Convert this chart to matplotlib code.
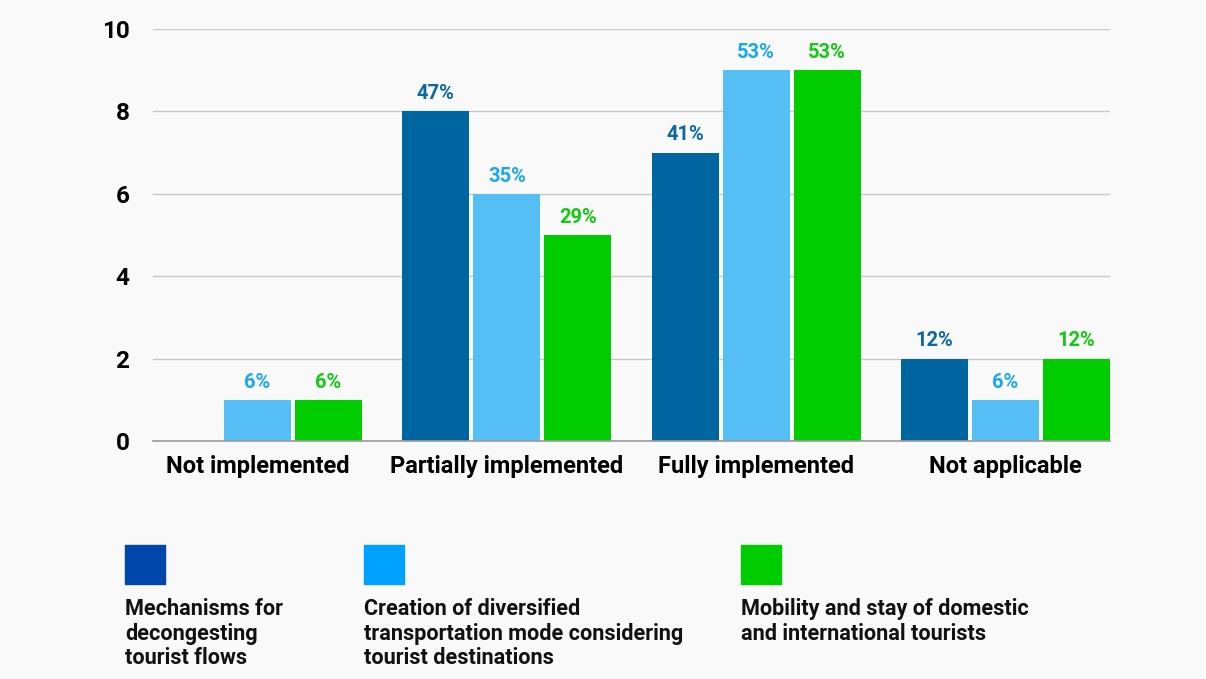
import matplotlib
matplotlib.use("Agg")
import matplotlib.pyplot as plt
from matplotlib.patches import Rectangle
import numpy as np

categories = ["Not implemented", "Partially implemented", "Fully implemented", "Not applicable"]
series_names = [
    "Mechanisms for\ndecongesting\ntourist flows",
    "Creation of diversified\ntransportation mode considering\ntourist destinations",
    "Mobility and stay of domestic\nand international tourists",
]
mechanisms = [0, 8, 7, 2]
transport = [1, 6, 9, 1]
mobility = [1, 5, 9, 2]
mechanisms_pct = ["", "47%", "41%", "12%"]
transport_pct = ["6%", "35%", "53%", "6%"]
mobility_pct = ["6%", "29%", "53%", "12%"]
yticks = [0, 2, 4, 6, 8, 10]

bar_colors = ["#0066a1", "#55bff5", "#00cc00"]
label_colors = ["#0b68a3", "#1aa7f3", "#14c814"]
legend_colors = ["#0047ab", "#00a2ff", "#00cc00"]

plt.rcParams["font.family"] = ["Roboto", "DejaVu Sans"]
fig = plt.figure(figsize=(12.06, 6.79), dpi=100)
fig.patch.set_facecolor("#f9f9f9")
ax = fig.add_axes([153/1206, 1-441/679, (1110-153)/1206, (441-29)/679])
ax.set_facecolor("#f9f9f9")

x = np.arange(len(categories))
width = 0.269
offset = 0.285
for i, (vals, pcts) in enumerate([(mechanisms, mechanisms_pct), (transport, transport_pct), (mobility, mobility_pct)]):
    xs = x + (i - 1) * offset
    ax.bar(xs, vals, width=width, color=bar_colors[i], zorder=3)
    for xx, v, p in zip(xs, vals, pcts):
        if p:
            ax.text(xx, v + 0.2, p, ha="center", va="bottom", fontsize=14.5,
                    fontweight="bold", color=label_colors[i])

ax.set_xlim(-0.419, 3.419)
ax.set_ylim(0, 10)
ax.set_yticks(yticks)
ax.set_yticklabels([str(t) for t in yticks], fontsize=17.5, fontweight="bold")
ax.set_xticks(x)
ax.set_xticklabels(categories, fontsize=17, fontweight="bold")
ax.tick_params(axis="both", length=0)
ax.tick_params(axis="y", pad=17)
ax.tick_params(axis="x", pad=10)
ax.grid(axis="y", color="#c8c8c8", linewidth=1, zorder=0)
for s in ["top", "right", "left"]:
    ax.spines[s].set_visible(False)
ax.spines["bottom"].set_color("#9a9a9a")
ax.spines["bottom"].set_linewidth(1.2)
ax.spines["bottom"].set_zorder(4)

legend_x = [125, 364, 741]
for lx, col, name in zip(legend_x, legend_colors, series_names):
    fig.patches.append(Rectangle((lx/1206, 1-584/679), 40/1206, 39/679,
                                 transform=fig.transFigure, color=col))
    fig.text(lx/1206, 1-598/679, name, ha="left", va="top", fontsize=15.6,
             fontweight="bold", color="#111111", linespacing=1.15)

fig.savefig("out.png", dpi=100, facecolor=fig.get_facecolor())
